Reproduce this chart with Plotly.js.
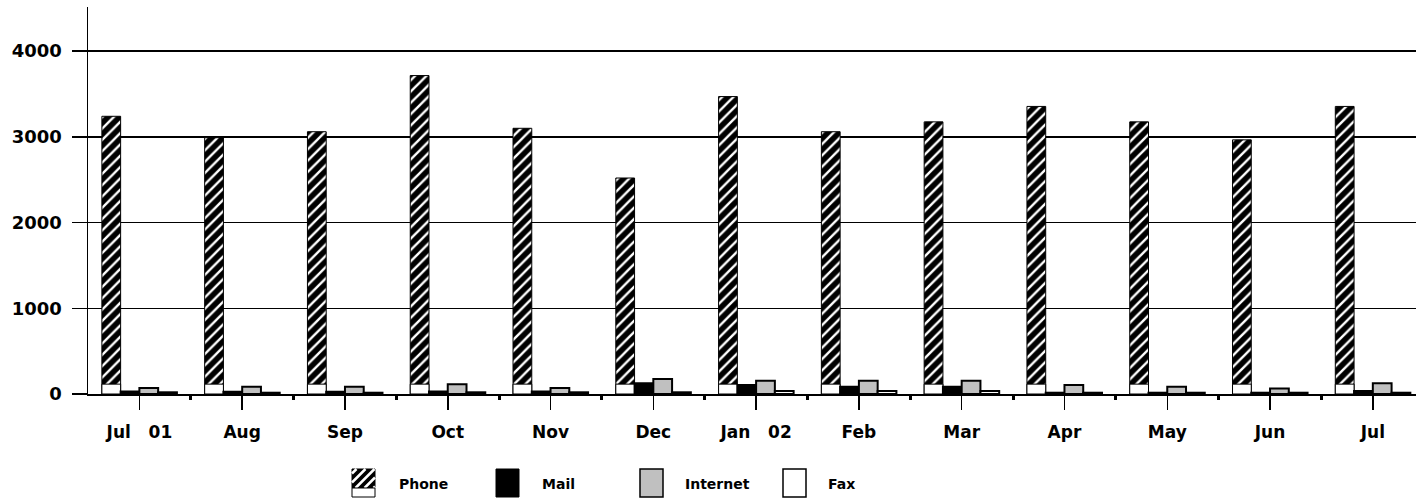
<!DOCTYPE html>
<html>
<head>
<meta charset="utf-8">
<script src="https://cdn.plot.ly/plotly-3.0.1.min.js"></script>
<style>
  html, body { margin: 0; padding: 0; background: #fff; }
  #chart { width: 1416px; height: 499px; }
</style>
</head>
<body>
<div id="chart"></div>
<script>
// Monthly contact volumes by channel, Jul 01 – Jul 02
const months = ['Jul\u00a0\u00a0\u00a001', 'Aug', 'Sep', 'Oct', 'Nov', 'Dec',
                'Jan\u00a0\u00a0\u00a002', 'Feb', 'Mar', 'Apr', 'May', 'Jun', 'Jul'];
const phone    = [3240, 2990, 3060, 3715, 3100, 2520, 3470, 3060, 3175, 3355, 3175, 2965, 3355];
const mail     = [30, 25, 25, 30, 30, 125, 105, 85, 85, 15, 15, 15, 35];
const internet = [70, 85, 85, 115, 70, 175, 155, 155, 155, 105, 85, 65, 125];
const fax      = [20, 15, 15, 20, 20, 20, 35, 35, 35, 15, 15, 15, 15];
const seriesNames = ['Phone', 'Mail', 'Internet', 'Fax'];

// Phone bars carry a plain white foot below the hatching
const PHONE_FOOT = 115;

const pos = months.map((_, i) => i);
// small marks between month groups
const between = pos.slice(0, -1).map(i => i + 0.5);
const BW = 0.1825;
const FONT = 'DejaVu Sans';
const X_RANGE = [-0.5, 12.42];

const phoneHatch = {
  shape: '/', fgcolor: '#ffffff', bgcolor: '#000000',
  fillmode: 'replace', size: 8, solidity: 0.3
};

const traces = [
  {
    type: 'bar', name: seriesNames[0], x: pos, y: phone,
    width: BW, offset: -2 * BW,
    marker: { color: '#000', pattern: phoneHatch, line: { color: '#000', width: 1 } },
    showlegend: false, hoverinfo: 'y'
  },
  {
    type: 'bar', name: seriesNames[0] + ' foot', x: pos,
    y: phone.map(v => Math.min(v, PHONE_FOOT)),
    width: BW, offset: -2 * BW,
    marker: { color: '#fff', line: { color: '#000', width: 1 } },
    showlegend: false, hoverinfo: 'skip'
  },
  {
    type: 'bar', name: seriesNames[1], x: pos, y: mail,
    width: BW, offset: -BW,
    marker: { color: '#000', line: { color: '#000', width: 2 } },
    showlegend: false
  },
  {
    type: 'bar', name: seriesNames[2], x: pos, y: internet,
    width: BW, offset: 0,
    marker: { color: '#c0c0c0', line: { color: '#000', width: 2 } },
    showlegend: false
  },
  {
    type: 'bar', name: seriesNames[3], x: pos, y: fax,
    width: BW, offset: BW,
    marker: { color: '#fff', line: { color: '#000', width: 2 } },
    showlegend: false
  }
];

// Page geometry used to place the hand-built legend under the plot
const M = { l: 88, r: 0, t: 7, b: 105 };
const FIG_W = 1416, FIG_H = 499;
const PW = FIG_W - M.l - M.r, PH = FIG_H - M.t - M.b;
const fx = p => (p - M.l) / PW;
const fy = p => (M.t + PH - p) / PH;

function rect(x0, y0, x1, y1, fill, lw) {
  return {
    type: 'rect', xref: 'paper', yref: 'paper', layer: 'above',
    x0: fx(x0), x1: fx(x1), y0: fy(y1), y1: fy(y0),
    fillcolor: fill, line: { color: '#000', width: lw }
  };
}

// diagonal "/" stripes clipped to a box
function hatch(x0, y0, x1, y1, step) {
  const out = [];
  for (let k = x0 + y0 + step / 2; k < x1 + y1; k += step) {
    const xs = Math.max(x0, k - y1), xe = Math.min(x1, k - y0);
    if (xe - xs < 1) continue;
    out.push({
      type: 'line', xref: 'paper', yref: 'paper', layer: 'above',
      x0: fx(xs), y0: fy(k - xs), x1: fx(xe), y1: fy(k - xe),
      line: { color: '#fff', width: 2.5 }
    });
  }
  return out;
}

const LEG_TOP = 469, LEG_BOT = 497, LEG_MID = 484;
const legendItems = [
  { sw: 352, txt: 397 },
  { sw: 496, txt: 540 },
  { sw: 640, txt: 683 },
  { sw: 783, txt: 826 }
];
const SW = 23;

const shapes = [];
// Phone key: hatched top, white foot
const p0 = legendItems[0].sw;
shapes.push(rect(p0, LEG_TOP, p0 + SW, 488, '#000', 1));
shapes.push(...hatch(p0, LEG_TOP, p0 + SW, 488, 9));
shapes.push(rect(p0, 488, p0 + SW, LEG_BOT, '#fff', 1));
shapes.push(rect(legendItems[1].sw, LEG_TOP, legendItems[1].sw + SW, LEG_BOT, '#000', 1));
shapes.push(rect(legendItems[2].sw, LEG_TOP, legendItems[2].sw + SW, LEG_BOT, '#c0c0c0', 1.5));
shapes.push(rect(legendItems[3].sw, LEG_TOP, legendItems[3].sw + SW, LEG_BOT, '#fff', 1.5));

const annotations = legendItems.map((it, i) => ({
  xref: 'paper', yref: 'paper', x: fx(it.txt), y: fy(LEG_MID),
  xanchor: 'left', yanchor: 'middle', showarrow: false,
  text: seriesNames[i],
  font: { family: FONT, size: 14, weight: 'bold', color: '#000' }
}));

const layout = {
  width: FIG_W, height: FIG_H,
  margin: M,
  paper_bgcolor: '#fff', plot_bgcolor: '#fff',
  barmode: 'overlay',
  showlegend: false,
  xaxis: {
    range: X_RANGE,
    tickmode: 'array', tickvals: pos, ticktext: months,
    ticks: 'outside', ticklen: 14, tickwidth: 1.5, tickcolor: '#000',
    minor: { tickmode: 'array', tickvals: between, ticks: 'outside',
             ticklen: 4, tickwidth: 3, tickcolor: '#000', showgrid: false },
    showline: true, linecolor: '#000', linewidth: 1.5,
    showgrid: false, zeroline: false,
    ticklabelstandoff: 8,
    tickfont: { family: FONT, size: 17, weight: 'bold', color: '#000' }
  },
  yaxis: {
    range: [0, 4515],
    tickvals: [0, 1000, 2000, 3000, 4000],
    ticks: 'outside', ticklen: 15, tickwidth: 1.5, tickcolor: '#000',
    showline: true, linecolor: '#000', linewidth: 1.5,
    showgrid: true, gridcolor: '#000', gridwidth: 1.5,
    zeroline: false,
    ticklabelstandoff: 6,
    tickfont: { family: FONT, size: 18, weight: 'bold', color: '#000' }
  },
  shapes: shapes,
  annotations: annotations
};

Plotly.newPlot('chart', traces, layout, { displayModeBar: false, staticPlot: true });
</script>
</body>
</html>
